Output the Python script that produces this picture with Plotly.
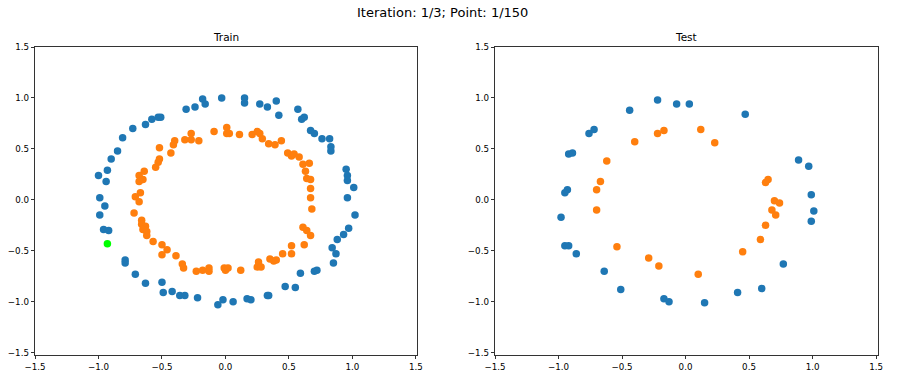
import plotly.graph_objects as go

# ---- data ----
train_blue_x = [-0.03, -0.18, -0.16, -0.24, -0.31, -0.51, -0.53, -0.58, -0.63, -0.73, -0.81, -0.85, -0.90, -0.93, -1.00, -0.94, -0.99,
                0.15, 0.15, 0.27, 0.33, 0.40, 0.42, 0.57, 0.60, 0.62, 0.67, 0.70, 0.76, 0.82, 0.83, 0.83, 0.95, 0.96, 0.96, 1.01, 0.96,
                -0.95, -0.99, -0.96, -0.92, -0.79, -0.79, -0.71, -0.63, -0.50, -0.49, -0.42, -0.36, -0.32, -0.22, -0.06, -0.02,
                1.02, 0.97, 0.93, 0.88, 0.84, 0.87, 0.85, 0.70, 0.72, 0.59, 0.47, 0.55, 0.33, 0.34, 0.17, 0.20, 0.06]
train_blue_y = [1.00, 0.99, 0.94, 0.91, 0.89, 0.81, 0.81, 0.79, 0.74, 0.70, 0.61, 0.48, 0.40, 0.29, 0.24, 0.18, 0.02,
                1.00, 0.95, 0.94, 0.91, 0.97, 0.83, 0.89, 0.79, 0.81, 0.68, 0.65, 0.60, 0.60, 0.52, 0.48, 0.30, 0.24, 0.19, 0.12, 0.02,
                -0.06, -0.15, -0.29, -0.30, -0.59, -0.62, -0.73, -0.82, -0.81, -0.91, -0.90, -0.94, -0.94, -0.96, -1.03, -0.98,
                -0.15, -0.28, -0.34, -0.39, -0.47, -0.53, -0.62, -0.70, -0.69, -0.72, -0.85, -0.86, -0.94, -0.94, -0.97, -0.98, -1.00]

train_orange_x = [0.01, 0.01, 0.03, -0.09, -0.27, -0.32, -0.27, -0.21, -0.40, -0.41, -0.52, -0.43, -0.52, -0.53, -0.55, -0.64, -0.68, -0.65, -0.68, -0.67, -0.71, -0.68,
                  0.11, 0.21, 0.25, 0.27, 0.29, 0.34, 0.39, 0.44, 0.49, 0.52, 0.54, 0.58, 0.61, 0.66, 0.63, 0.64, 0.67, 0.67, 0.67,
                  -0.72, -0.66, -0.66, -0.63, -0.65, -0.62, -0.62, -0.57, -0.50, -0.46, -0.50, -0.39, -0.34, -0.33, -0.23, -0.18, -0.13, -0.13, -0.01, 0.00, 0.02,
                  0.12, 0.25, 0.26, 0.28, 0.35, 0.38, 0.40, 0.45, 0.52, 0.52, 0.62, 0.61, 0.64, 0.67, 0.68]
train_orange_y = [0.71, 0.65, 0.65, 0.67, 0.65, 0.59, 0.59, 0.58, 0.58, 0.54, 0.51, 0.46, 0.40, 0.37, 0.32, 0.28, 0.24, 0.20, 0.18, 0.07, 0.03, -0.02,
                  0.64, 0.64, 0.67, 0.65, 0.60, 0.55, 0.54, 0.58, 0.46, 0.43, 0.45, 0.42, 0.35, 0.36, 0.28, 0.21, 0.20, 0.11, 0.02,
                  -0.13, -0.20, -0.24, -0.26, -0.29, -0.31, -0.35, -0.41, -0.44, -0.49, -0.54, -0.55, -0.63, -0.67, -0.70, -0.69, -0.67, -0.70, -0.67, -0.69, -0.67,
                  -0.69, -0.66, -0.61, -0.66, -0.58, -0.60, -0.59, -0.53, -0.45, -0.53, -0.44, -0.27, -0.30, -0.35, -0.09]

current_x = [-0.93]
current_y = [-0.43]

test_blue_x = [-0.22, -0.07, 0.03, -0.44, -0.72, -0.76, -0.92, -0.89, -0.93, -0.95, 0.47, 0.89, 0.97, 0.99,
               -0.98, -0.95, -0.92, -0.86, -0.64, -0.51, -0.17, -0.13, 1.01, 0.99, 0.77, 0.60, 0.41, 0.15]
test_blue_y = [0.98, 0.94, 0.94, 0.88, 0.69, 0.65, 0.45, 0.46, 0.10, 0.07, 0.84, 0.39, 0.33, 0.05,
               -0.17, -0.45, -0.45, -0.53, -0.70, -0.88, -0.97, -1.00, -0.11, -0.21, -0.63, -0.87, -0.91, -1.01]

test_orange_x = [-0.22, -0.17, -0.40, -0.62, -0.67, -0.70, 0.12, 0.23, 0.65, 0.63, 0.70, 0.74,
                 -0.70, -0.54, -0.29, -0.21, 0.68, 0.71, 0.63, 0.59, 0.45, 0.10]
test_orange_y = [0.65, 0.68, 0.57, 0.38, 0.18, 0.10, 0.69, 0.56, 0.20, 0.17, -0.01, -0.03,
                 -0.10, -0.46, -0.57, -0.65, -0.10, -0.15, -0.25, -0.39, -0.51, -0.73]

tick_vals = [-1.5, -1.0, -0.5, 0.0, 0.5, 1.0, 1.5]
tick_text = ["\u22121.5", "\u22121.0", "\u22120.5", "0.0", "0.5", "1.0", "1.5"]

suptitle = "Iteration: 1/3; Point: 1/150"
titles = ["Train", "Test"]

BLUE = "#1f77b4"
ORANGE = "#ff7f0e"
GREEN = "#00ff00"
FONT = "DejaVu Sans"
MS = 7.5

fig = go.Figure()


def add(xs, ys, color, xa, ya):
    fig.add_trace(go.Scatter(x=xs, y=ys, mode="markers", xaxis=xa, yaxis=ya,
                             marker=dict(color=color, size=MS, line=dict(width=0)),
                             showlegend=False, hoverinfo="skip"))


add(train_blue_x, train_blue_y, BLUE, "x", "y")
add(train_orange_x, train_orange_y, ORANGE, "x", "y")
add(current_x, current_y, GREEN, "x", "y")
add(test_blue_x, test_blue_y, BLUE, "x2", "y2")
add(test_orange_x, test_orange_y, ORANGE, "x2", "y2")

W, H = 900, 385


def fx(px):
    return px / W


def fy(py):
    return 1 - py / H


ydom = [fy(355), fy(47)]

axis_common = dict(
    tickvals=tick_vals, ticktext=tick_text, ticks="outside", ticklen=3.5, tickwidth=0.8,
    tickcolor="black", showline=True, linecolor="black", linewidth=0.8, mirror=True,
    showgrid=False, zeroline=False, automargin=False,
    tickfont=dict(family=FONT, size=8.7, color="black"),
)

fig.update_layout(
    width=W, height=H,
    margin=dict(l=0, r=0, t=0, b=0, pad=0),
    paper_bgcolor="white", plot_bgcolor="white",
    xaxis=dict(domain=[fx(35), fx(417.5)], range=[-1.5, 1.512], anchor="y", **axis_common),
    yaxis=dict(domain=ydom, range=[-1.523, 1.5], anchor="x", **axis_common),
    xaxis2=dict(domain=[fx(495), fx(877.7)], range=[-1.5, 1.513], anchor="y2", **axis_common),
    yaxis2=dict(domain=ydom, range=[-1.523, 1.5], anchor="x2", **axis_common),
    annotations=[
        dict(text=suptitle, x=fx(442.5), y=fy(12), xref="paper", yref="paper",
             xanchor="center", yanchor="middle", showarrow=False,
             font=dict(family=FONT, size=13, color="black")),
        dict(text=titles[0], x=fx((35 + 417.5) / 2), y=fy(37.5), xref="paper", yref="paper",
             xanchor="center", yanchor="middle", showarrow=False,
             font=dict(family=FONT, size=10.5, color="black")),
        dict(text=titles[1], x=fx((495 + 877.7) / 2), y=fy(37.5), xref="paper", yref="paper",
             xanchor="center", yanchor="middle", showarrow=False,
             font=dict(family=FONT, size=10.5, color="black")),
    ],
)

# remove the browser's default page margin so the figure sits at the window's corner
fig.write_html("out.html",
               config={"displayModeBar": False, "staticPlot": True},
               post_script="document.body.style.margin='0';document.body.style.overflow='hidden';")
